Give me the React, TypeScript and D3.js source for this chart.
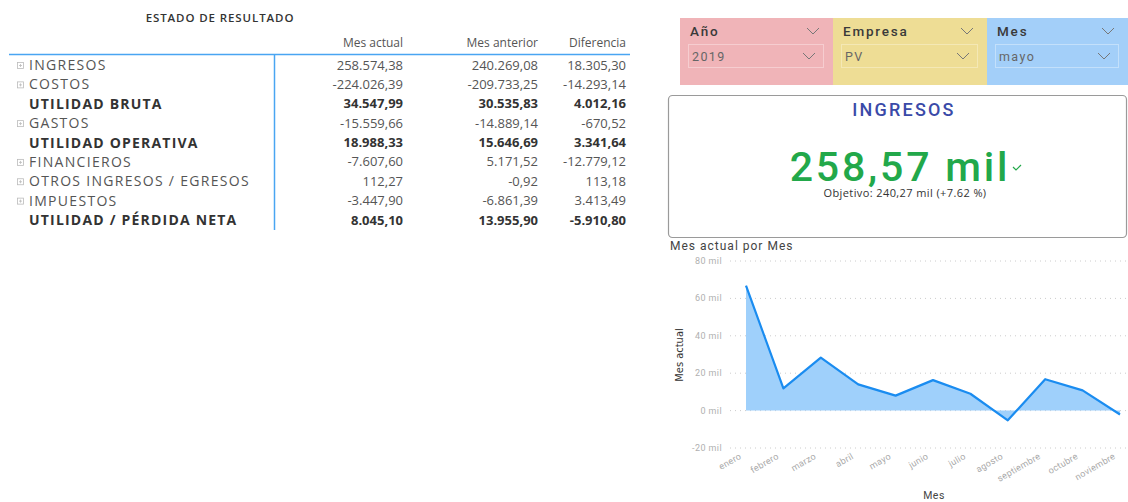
import * as d3 from 'd3';
import React from 'react';

// Estado de resultado
const rowLabels = [
  'INGRESOS',
  'COSTOS',
  'UTILIDAD BRUTA',
  'GASTOS',
  'UTILIDAD OPERATIVA',
  'FINANCIEROS',
  'OTROS INGRESOS / EGRESOS',
  'IMPUESTOS',
  'UTILIDAD / PÉRDIDA NETA',
];
const rowBold = [false, false, true, false, true, false, false, false, true];
const mesActual = [258574.38, -224026.39, 34547.99, -15559.66, 18988.33, -7607.6, 112.27, -3447.9, 8045.1];
const mesAnterior = [240269.08, -209733.25, 30535.83, -14889.14, 15646.69, 5171.52, -0.92, -6861.39, 13955.9];
const diferencia = [18305.3, -14293.14, 4012.16, -670.52, 3341.64, -12779.12, 113.18, 3413.49, -5910.8];
const columnHeaders = ['Mes actual', 'Mes anterior', 'Diferencia'];

// slicers
const slicerTitles = ['Año', 'Empresa', 'Mes'];
const slicerValues = ['2019', 'PV', 'mayo'];

// monthly series
const months = ['enero', 'febrero', 'marzo', 'abril', 'mayo', 'junio', 'julio', 'agosto', 'septiembre', 'octubre', 'noviembre'];
const monthValues = [66800, 11900, 28300, 14000, 8000, 16300, 9000, -5200, 16800, 10800, -2100];
const yTicks = [-20000, 0, 20000, 40000, 60000, 80000];

const es = d3.formatLocale({ decimal: ',', thousands: '.', grouping: [3], currency: ['', ''], minus: '-' } as any);
const fmt = es.format(',.2f');

const W = 1128;
const H = 502;
const tableFont = '"Open Sans", "DejaVu Sans", sans-serif';
const cardFont = 'Roboto, "DejaVu Sans", sans-serif';
const colRight = [403, 538, 626];
const rowY = d3.scaleLinear().domain([0, 8]).range([65, 220]);

const x = d3.scalePoint<string>().domain(months).range([746, 1120]);
const y = d3.scaleLinear().domain([-20000, 80000]).range([448, 261]);

const area = d3
  .area<number>()
  .x((_, i) => x(months[i]) || 0)
  .y0(y(0))
  .y1((d) => y(d));
const line = d3
  .line<number>()
  .x((_, i) => x(months[i]) || 0)
  .y((d) => y(d));

const slicerX = [680, 833, 987];
const slicerW = [153, 154, 141];
const slicerFill = ['#f0b4b8', '#eedd95', '#a3cff9'];
const slicerBorder = ['#f6cdd0', '#f4e8b5', '#c3e0fb'];

const Chevron: React.FC<{ cx: number; cy: number; w?: number }> = ({ cx, cy, w = 12 }) => (
  <polyline
    points={`${cx - w / 2},${cy - 3} ${cx},${cy + 3} ${cx + w / 2},${cy - 3}`}
    fill="none"
    stroke="#777"
    strokeWidth={1}
  />
);

const App: React.FC = () => {
  return (
    <svg width={W} height={H} style={{ position: 'absolute', left: 0, top: 0, background: '#fff' }}>
      {/* table */}
      <text x={220} y={22} textAnchor="middle" fontFamily={tableFont} fontSize={11.5} fontWeight={600} fill="#333" letterSpacing={0.9}>
        ESTADO DE RESULTADO
      </text>
      {columnHeaders.map((h, i) => (
        <text key={h} x={colRight[i]} y={47} textAnchor="end" fontFamily={tableFont} fontSize={12} fill="#555">
          {h}
        </text>
      ))}
      <line x1={9} x2={630} y1={54.5} y2={54.5} stroke="#49a5f2" strokeWidth={1.5} />
      <line x1={274.5} x2={274.5} y1={54} y2={230} stroke="#49a5f2" strokeWidth={1.5} />
      {rowLabels.map((label, i) => {
        const cy = rowY(i);
        const bold = rowBold[i];
        const color = bold ? '#333' : '#555';
        const weight = bold ? 700 : 400;
        return (
          <g key={label}>
            {!bold && (
              <g stroke="#bbb" strokeWidth={0.8} fill="none">
                <rect x={17.5} y={cy - 2.5} width={6} height={6} />
                <line x1={19} x2={22} y1={cy + 0.5} y2={cy + 0.5} />
                <line x1={20.5} x2={20.5} y1={cy - 1} y2={cy + 2} />
              </g>
            )}
            <text x={29} y={cy + 5} fontFamily={tableFont} fontSize={14} fontWeight={weight} fill={color} letterSpacing={bold ? 1.2 : 1.3}>
              {label}
            </text>
            {[mesActual[i], mesAnterior[i], diferencia[i]].map((v, j) => (
              <text key={j} x={colRight[j]} y={cy + 4.5} textAnchor="end" fontFamily={tableFont} fontSize={13} fontWeight={weight} fill={color}>
                {fmt(v)}
              </text>
            ))}
          </g>
        );
      })}

      {/* slicers */}
      {slicerTitles.map((t, i) => {
        const sx = slicerX[i];
        const sw = slicerW[i];
        return (
          <g key={t}>
            <rect x={sx} y={18} width={sw} height={67} fill={slicerFill[i]} />
            <text x={sx + 10} y={36} fontFamily={cardFont} fontSize={13.5} fontWeight={500} fill="#3a3a3a" letterSpacing={1.8}>
              {t}
            </text>
            <Chevron cx={sx + sw - 20} cy={31} />
            <rect x={sx + 8.5} y={44.5} width={sw - 18} height={23} fill="none" stroke={slicerBorder[i]} strokeWidth={1} />
            <text x={sx + 12} y={61} fontFamily={cardFont} fontSize={12.5} fill="#666" letterSpacing={1.4}>
              {slicerValues[i]}
            </text>
            <Chevron cx={sx + sw - 24} cy={56} />
          </g>
        );
      })}

      {/* KPI card */}
      <rect x={668.5} y={95.5} width={458} height={142} rx={4} fill="#fff" stroke="#9a9a9a" strokeWidth={1.2} />
      <text x={904} y={116} textAnchor="middle" fontFamily={cardFont} fontSize={18} fontWeight={500} fill="#3a4aa8" letterSpacing={2.2}>
        INGRESOS
      </text>
      <text x={900} y={181} textAnchor="middle" fontFamily={cardFont} fontSize={41} fontWeight={500} fill="#22a84a" letterSpacing={2.8}>
        258,57 mil
      </text>
      <polyline points="1013,167 1016,170 1021,165" fill="none" stroke="#22a84a" strokeWidth={1.2} />
      <text x={905} y={197} textAnchor="middle" fontFamily={tableFont} fontSize={11} fill="#333" letterSpacing={0.4}>
        Objetivo: 240,27 mil (+7.62 %)
      </text>

      {/* line chart */}
      <text x={670} y={250} fontFamily={cardFont} fontSize={12} fill="#444" letterSpacing={1}>
        Mes actual por Mes
      </text>
      {yTicks.map((t) => (
        <g key={t}>
          <line x1={730} x2={1128} y1={y(t)} y2={y(t)} stroke="#ccc" strokeWidth={1} strokeDasharray="1,4" />
          <text x={722} y={y(t) + 3} textAnchor="end" fontFamily={cardFont} fontSize={9} fill="#b0b0b0" letterSpacing={0.4}>
            {`${t / 1000} mil`}
          </text>
        </g>
      ))}
      <text
        transform={`translate(683,355) rotate(-90)`}
        textAnchor="middle"
        fontFamily={'"Liberation Sans Narrow", "DejaVu Sans Condensed", sans-serif'}
        fontSize={11}
        fill="#333"
      >
        Mes actual
      </text>
      <path d={area(monthValues) || ''} fill="#9fd0fb" />
      <path d={line(monthValues) || ''} fill="none" stroke="#1a8cf0" strokeWidth={2.2} strokeLinejoin="round" />
      {months.map((m) => (
        <text
          key={m}
          transform={`translate(${(x(m) || 0) - 4},458) rotate(-30)`}
          textAnchor="end"
          fontFamily={cardFont}
          fontSize={9}
          fill="#aaa"
          letterSpacing={0.3}
        >
          {m}
        </text>
      ))}
      <text x={934} y={499} textAnchor="middle" fontFamily={cardFont} fontSize={10.5} fill="#444" letterSpacing={0.5}>
        Mes
      </text>
    </svg>
  );
};

export default App;
